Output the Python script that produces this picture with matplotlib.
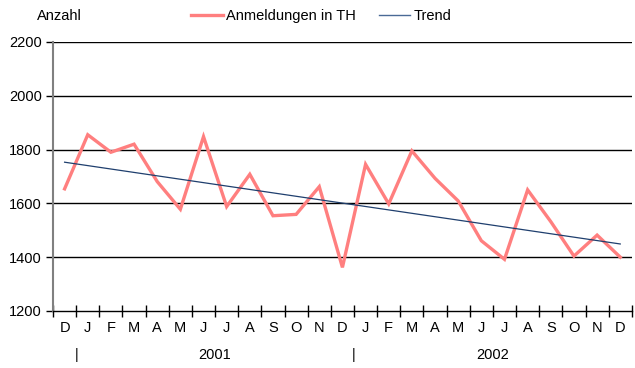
import numpy as np
import matplotlib.pyplot as plt
from matplotlib.lines import Line2D

plt.rcParams['font.family'] = ['Liberation Sans', 'DejaVu Sans']

# Monatswerte Dez 2000 bis Dez 2002
months = ['D', 'J', 'F', 'M', 'A', 'M', 'J', 'J', 'A', 'S', 'O', 'N', 'D',
          'J', 'F', 'M', 'A', 'M', 'J', 'J', 'A', 'S', 'O', 'N', 'D']
anmeldungen = [1654, 1855, 1790, 1820, 1681, 1578, 1848, 1588, 1708, 1554,
               1559, 1662, 1362, 1745, 1598, 1795, 1693, 1609, 1461, 1392,
               1650, 1532, 1404, 1482, 1400]
trend_ends = [1753, 1449]
years = ['2001', '2002']
yticks = [1200, 1400, 1600, 1800, 2000, 2200]

fig = plt.figure(figsize=(6.35, 3.68), dpi=100)
ax = fig.add_axes([0.0835, 0.155, 0.9115, 0.731])

x = np.arange(len(months))
ax.plot(x, anmeldungen, color='#ff7f7f', lw=2.4, solid_joinstyle='miter', zorder=3)
ax.plot([x[0], x[-1]], trend_ends, color='#1f3f6e', lw=0.9, zorder=4)

ax.set_xlim(-0.5, len(months) - 0.5)
ax.set_ylim(1200, 2200)
ax.set_yticks(yticks)
ax.set_yticklabels([str(v) for v in yticks], fontsize=10.5)
for v in yticks[1:]:
    ax.axhline(v, color='black', lw=1.0, zorder=1)

# category borders as major ticks, month letters as minor labels
ax.set_xticks(np.arange(-0.5, len(months), 1.0))
ax.set_xticklabels([])
ax.set_xticks(x, minor=True)
ax.set_xticklabels(months, minor=True, fontsize=10.5)
ax.tick_params(axis='x', which='major', direction='inout', length=8, width=1, color='black')
ax.tick_params(axis='x', which='minor', length=0, pad=7)
ax.tick_params(axis='y', direction='out', length=5, width=1, color='black', pad=3)

for s in ['top', 'right']:
    ax.spines[s].set_visible(False)
ax.spines['left'].set_color('#808080')
ax.spines['left'].set_linewidth(1.5)
ax.spines['bottom'].set_color('black')
ax.spines['bottom'].set_linewidth(1.0)

# year labels and separators below the months
trans = ax.get_xaxis_transform()
ax.text(0.5, -0.165, '|', transform=trans, ha='center', va='center', fontsize=10.5)
ax.text(12.5, -0.165, '|', transform=trans, ha='center', va='center', fontsize=10.5)
ax.text(6.5, -0.165, years[0], transform=trans, ha='center', va='center', fontsize=10.5)
ax.text(18.5, -0.165, years[1], transform=trans, ha='center', va='center', fontsize=10.5)

fig.text(0.059, 0.957, 'Anzahl', ha='left', va='center', fontsize=10.5)

handles = [Line2D([], [], color='#ff7f7f', lw=2.4),
           Line2D([], [], color='#4a6a96', lw=1.0)]
fig.legend(handles, ['Anmeldungen in TH', 'Trend'], loc='center',
           bbox_to_anchor=(0.506, 0.957), ncol=2, frameon=False, fontsize=10.5,
           handlelength=2.15, handletextpad=0.2, columnspacing=1.6)

fig.savefig('out.png', dpi=100)
